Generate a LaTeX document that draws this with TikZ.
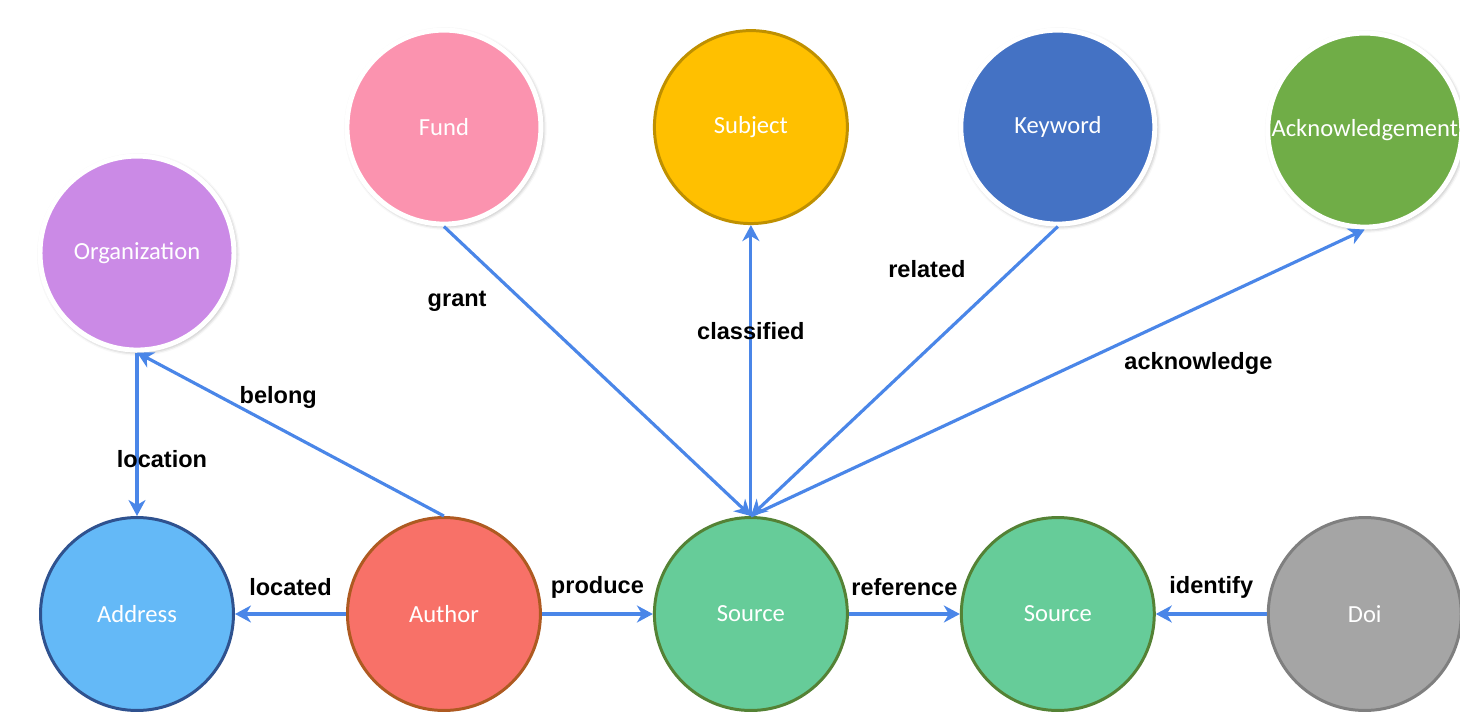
\documentclass[tikz,border=0pt]{standalone}
\usepackage{fontspec}
\setmainfont{Carlito}
\newfontfamily\edgefont{Liberation Sans}
\usepackage{tikz}
\usetikzlibrary{arrows.meta, positioning, shadows.blur}
\definecolor{edgeblue}{HTML}{4A86E8}
\definecolor{orgfill}{HTML}{CB8AE6}
\definecolor{fundfill}{HTML}{FB93AF}
\definecolor{subjfill}{HTML}{FFC000}
\definecolor{subjline}{HTML}{BF9000}
\definecolor{keyfill}{HTML}{4472C4}
\definecolor{ackfill}{HTML}{70AD47}
\definecolor{addrfill}{HTML}{64B9F7}
\definecolor{addrline}{HTML}{2F528F}
\definecolor{authfill}{HTML}{F87168}
\definecolor{authline}{HTML}{AE5A21}
\definecolor{srcfill}{HTML}{66CC99}
\definecolor{srcline}{HTML}{548235}
\definecolor{doifill}{HTML}{A5A5A5}
\definecolor{doiline}{HTML}{7F7F7F}
\tikzstyle{entity} = [circle, minimum size=3.88cm, inner sep=0pt, text=white, font=\fontsize{14}{16}\selectfont]
\tikzstyle{framed} = [entity, draw=white, line width=2.8pt, blur shadow={shadow xshift=0.8pt, shadow yshift=-0.8pt, shadow blur radius=2.5pt, shadow opacity=45}]
\tikzstyle{ringed} = [entity, minimum size=3.86cm, line width=1.7pt]
\tikzstyle{arrow} = [line width=1.8pt, draw=edgeblue, -{Stealth[length=0.32cm, width=0.34cm, inset=0.1cm]}]
\tikzstyle{rel} = [font=\edgefont\bfseries\fontsize{13.4}{16}\selectfont, text=black]
\begin{document}
\begin{tikzpicture}[x=0.02cm, y=-0.02cm, node distance=6.14cm]
        \useasboundingbox (0,0) rectangle (1460,726);

        % Bottom row
        \node (address) [ringed, fill=addrfill, draw=addrline] at (137,614) {Address};
        \node (author) [ringed, fill=authfill, draw=authline, right of=address] {Author};
        \node (source) [ringed, fill=srcfill, draw=srcline, right of=author] {Source};
        \node (target) [ringed, fill=srcfill, draw=srcline, right of=source] {Source};
        \node (doi) [ringed, fill=doifill, draw=doiline, right of=target] {Doi};

        % Top row
        \node (org) [framed, fill=orgfill, above of=address, node distance=7.22cm] {Organization};
        \node (fund) [framed, fill=fundfill, above of=author, node distance=9.74cm] {Fund};
        \node (subject) [entity, fill=subjfill, draw=subjline, line width=1.7pt, minimum size=3.86cm, right of=fund] {Subject};
        \node (keyword) [framed, fill=keyfill, right of=subject] {Keyword};
        \node (ack) [framed, fill=ackfill, right of=keyword, yshift=-0.06cm] {Acknowledgement};

        % Arrows
        \draw [arrow] (org) -- node[rel, pos=0.65, xshift=0.5cm] {location} (address);
        \draw [arrow] (author.north) -- node[rel, pos=0.54, yshift=0.6cm] {belong} (org.south);
        \draw [arrow] (author) -- node[rel, yshift=0.54cm] {located} (address);
        \draw [arrow] (author) -- node[rel, yshift=0.54cm] {produce} (source);
        \draw [arrow] (fund.south) -- node[rel, pos=0.1, xshift=-0.35cm, yshift=-0.92cm] {grant} (source.north);
        \draw [arrow] (source.north) -- node[rel, pos=0.636] {classified} (subject.south);
        \draw [arrow] (keyword.south) -- node[rel, pos=0.148, xshift=-1.71cm] {related} (source.north);
        \draw [arrow] (source.north) -- node[rel, pos=0.729, yshift=-1.12cm] {acknowledge} (ack.south);
        \draw [arrow] (source) -- node[rel, yshift=0.54cm] {reference} (target);
        \draw [arrow] (doi) -- node[rel, yshift=0.54cm] {identify} (target);

    \end{tikzpicture}
\end{document}
